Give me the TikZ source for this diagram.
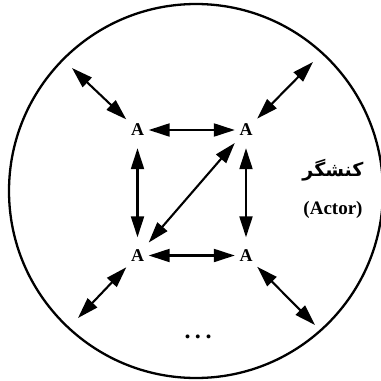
\documentclass[tikz,border=0pt]{standalone}
\usepackage{fontspec}
\setmainfont{Liberation Serif}
\newfontfamily\arabicfont[Script=Arabic]{DejaVu Sans}
\TeXXeTstate=1
\usetikzlibrary{arrows.meta}
\begin{document}
\begin{tikzpicture}[x=1pt,y=-1pt,
  actor/.style={font=\fontsize{18}{18}\selectfont\bfseries, inner sep=0pt, minimum width=22pt, minimum height=36pt},
  link/.style={line width=2.1pt, {Triangle[length=21pt,width=13pt]}-{Triangle[length=21pt,width=13pt]}},
  lbl/.style={font=\fontsize{19}{19}\selectfont\bfseries, inner sep=0pt}]
\useasboundingbox (0,0) rectangle (381,381);
\fill[white] (0,0) rectangle (381,381);
\draw[line width=2.3pt] (196,191) circle (187);
\node[actor] (tl) at (137.5,130) {A};
\node[actor] (tr) at (246,130) {A};
\node[actor] (bl) at (137.5,255.5) {A};
\node[actor] (br) at (246,255.5) {A};
\coordinate (otl) at (72,68);
\coordinate (otr) at (313,62);
\coordinate (obl) at (78,318);
\coordinate (obr) at (315,325);
\draw[link] (tl) -- (tr);
\draw[link] (bl) -- (br);
\draw[link] (tl) -- (bl);
\draw[link] (tr) -- (br);
\draw[link] (bl) -- (tr);
\draw[link] (otl) -- (tl);
\draw[link] (otr) -- (tr);
\draw[link] (obl) -- (bl);
\draw[link] (obr) -- (br);
\node[inner sep=0pt, font=\fontsize{19}{19}\selectfont\arabicfont\bfseries] (fa) at (333,170) {\beginR کنشگر\endR};
\node[lbl] (en) at (333,210) {(Actor)};
\node[lbl, anchor=base, font=\fontsize{24}{24}\selectfont\bfseries] (dots) at (198,338) {.\hspace{4.5pt}.\hspace{4.5pt}.};
\end{tikzpicture}
\end{document}
